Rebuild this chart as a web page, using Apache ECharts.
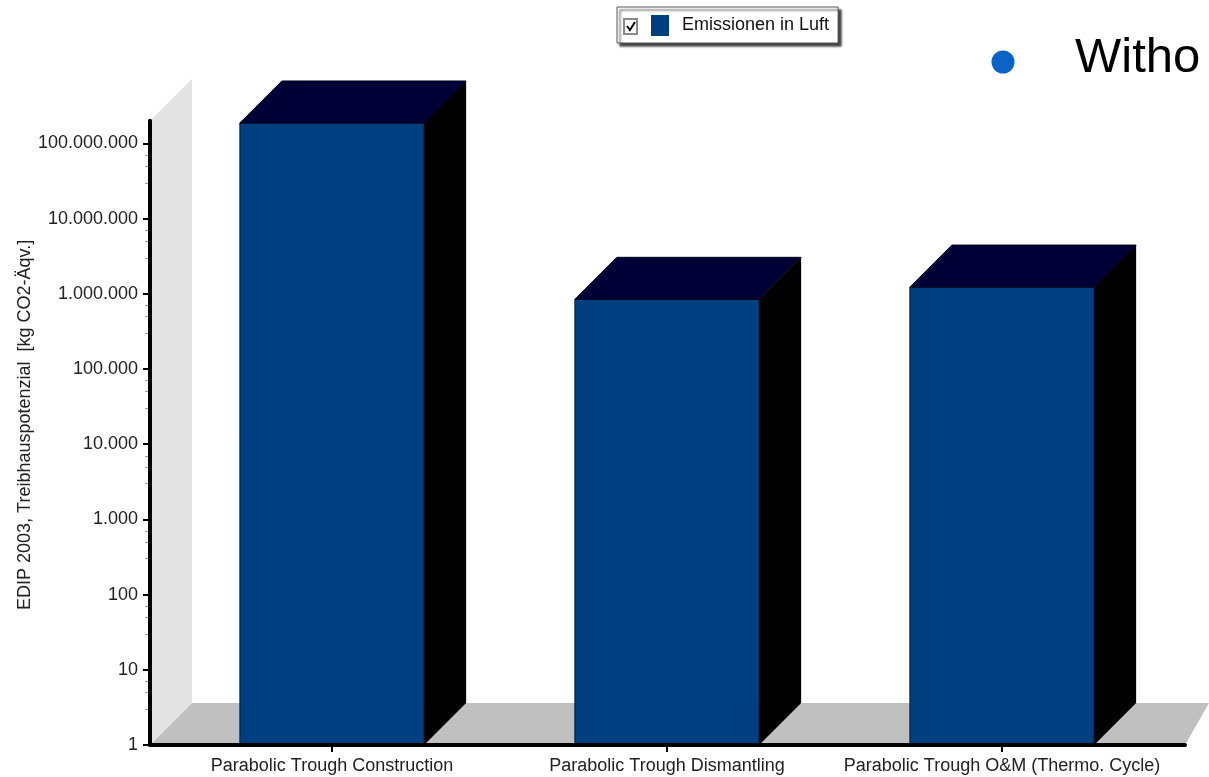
<!DOCTYPE html>
<html>
<head>
<meta charset="utf-8">
<script src="https://cdn.jsdelivr.net/npm/echarts@6/dist/echarts.min.js"></script>
<style>
html,body{margin:0;padding:0;background:#fff;}
#chart{width:1209px;height:777px;}
</style>
</head>
<body>
<div id="chart"></div>
<script>
// ---- data ----
var categories = ['Parabolic Trough Construction', 'Parabolic Trough Dismantling', 'Parabolic Trough O&M (Thermo. Cycle)'];
var seriesName = 'Emissionen in Luft';
var values = [187000000, 845000, 1230000];
var yMajorTicks = [1, 10, 100, 1000, 10000, 100000, 1000000, 10000000, 100000000];
var yMinorMultipliers = [3, 5, 7];
var yAxisName = 'EDIP 2003, Treibhauspotenzial  [kg CO2-\u00c4qv.]';
var yMin = 1, yMax = 200000000;

var yMinorTicks = [];
yMajorTicks.forEach(function (d) {
  yMinorMultipliers.forEach(function (m) {
    var v = d * m;
    if (v < yMax) yMinorTicks.push(v);
  });
});

function fmt(v) {
  return String(Math.round(v)).replace(/\B(?=(\d{3})+(?!\d))/g, '.');
}

var FONT = 'Liberation Sans, Arial, sans-serif';
var DEPTH = 42;
var chart = echarts.init(document.getElementById('chart'));

var gridTop = 120.8, gridBottom = 32;

var option = {
  backgroundColor: '#ffffff',
  animation: false,
  legend: {
    data: [seriesName],
    left: 617, top: 7,
    padding: [8, 9, 7, 34],
    itemWidth: 18, itemHeight: 21,
    icon: 'rect',
    backgroundColor: '#ffffff',
    borderColor: '#555',
    borderWidth: 1,
    shadowColor: 'rgba(0,0,0,0.75)',
    shadowBlur: 2,
    shadowOffsetX: 3,
    shadowOffsetY: 3,
    textStyle: { fontFamily: FONT, fontSize: 18, color: '#111', padding: [0, 0, 0, 8] },
    selectedMode: false
  },
  grid: [
    { left: 150, right: 24, top: gridTop, bottom: gridBottom },
    { left: 164.5, right: 39.5, top: gridTop, bottom: gridBottom }
  ],
  xAxis: [
    { type: 'value', gridIndex: 0, min: 0, max: 1, z: 10,
      axisLine: { show: true, lineStyle: { color: '#000', width: 4 } },
      axisTick: { show: false }, axisLabel: { show: false }, splitLine: { show: false } },
    { type: 'category', gridIndex: 1, data: categories, z: 10,
      axisLine: { show: false },
      axisTick: { show: true, alignWithLabel: true, length: 7, lineStyle: { color: '#000', width: 2 } },
      axisLabel: { interval: 0, fontFamily: FONT, fontSize: 18, color: '#222', margin: 12 },
      splitLine: { show: false } }
  ],
  yAxis: [
    { type: 'log', gridIndex: 0, position: 'left', min: yMin, max: yMax, z: 10,
      name: yAxisName, nameLocation: 'middle', nameGap: 116, nameMoveOverlap: false,
      nameTextStyle: { fontFamily: FONT, fontSize: 18, color: '#222', padding: [0, 0, 0, 16] },
      axisLine: { show: true, lineStyle: { color: '#000', width: 4 } },
      axisTick: { show: true, length: 7, customValues: yMajorTicks, lineStyle: { color: '#000', width: 2 } },
      axisLabel: { customValues: yMajorTicks, fontFamily: FONT, fontSize: 18, color: '#222', margin: 12,
        formatter: function (v) { return fmt(v); } },
      splitLine: { show: false }, minorTick: { show: false } },
    { type: 'log', gridIndex: 0, position: 'left', offset: 0, min: yMin, max: yMax, z: 9,
      axisLine: { show: false },
      axisTick: { show: true, length: 5, customValues: yMinorTicks, lineStyle: { color: '#999', width: 1 } },
      axisLabel: { show: false }, splitLine: { show: false } },
    { type: 'log', gridIndex: 1, min: yMin, max: yMax, show: false }
  ],
  series: [
    { // wall + floor
      type: 'custom', xAxisIndex: 0, yAxisIndex: 0, z: -1, silent: true,
      data: [[0, 1]],
      renderItem: function (params, api) {
        var bl = api.coord([0, yMin]);
        var tl = api.coord([0, yMax]);
        var br = api.coord([1, yMin]);
        return { type: 'group', children: [
          { type: 'polygon', shape: { points: [bl, tl, [tl[0] + DEPTH, tl[1] - DEPTH], [bl[0] + DEPTH, bl[1] - DEPTH]] },
            style: { fill: '#e3e3e3' } },
          { type: 'polygon', shape: { points: [bl, br, [br[0] + 24, br[1] - DEPTH], [bl[0] + DEPTH, bl[1] - DEPTH]] },
            style: { fill: '#c0c0c0' } }
        ] };
      }
    },
    {
      name: seriesName,
      type: 'custom', xAxisIndex: 1, yAxisIndex: 2, z: 2,
      itemStyle: { color: '#003f7f' },
      data: values.map(function (v, i) { return [i, v]; }),
      encode: { x: 0, y: 1 },
      renderItem: function (params, api) {
        var i = api.value(0), v = api.value(1);
        var top = api.coord([i, v]);
        var bot = api.coord([i, yMin]);
        var w = api.size([1, 0])[0] * 0.55;
        var x0 = top[0] - w / 2, x1 = top[0] + w / 2, y0 = top[1], y1 = bot[1];
        return { type: 'group', children: [
          { type: 'rect', shape: { x: x0, y: y0, width: w, height: y1 - y0 },
            style: { fill: '#003f7f', stroke: '#001a3a', lineWidth: 1 } },
          { type: 'polygon', shape: { points: [[x0, y0], [x0 + DEPTH, y0 - DEPTH], [x1 + DEPTH, y0 - DEPTH], [x1, y0]] },
            style: { fill: '#000036', stroke: '#00001e', lineWidth: 1 } },
          { type: 'polygon', shape: { points: [[x1, y0], [x1 + DEPTH, y0 - DEPTH], [x1 + DEPTH, y1 - DEPTH], [x1, y1]] },
            style: { fill: '#000000' } }
        ] };
      }
    }
  ],
  graphic: [
    { type: 'rect', shape: { x: 624, y: 19, width: 13, height: 15 },
      style: { fill: '#fff', stroke: '#8a8a8a', lineWidth: 2 }, z: 100 },
    { type: 'polyline', shape: { points: [[627, 26], [630, 30], [635, 22]] },
      style: { stroke: '#000', lineWidth: 2, fill: null }, z: 101 },
    { type: 'circle', shape: { cx: 1003, cy: 62, r: 11.5 }, style: { fill: '#0a64c8' }, z: 100 },
    { type: 'text', x: 1075, y: 58, z: 100,
      style: { text: 'Witho', fontFamily: FONT, fontSize: 49, fill: '#000', verticalAlign: 'middle', align: 'left' } }
  ]
};
chart.setOption(option);
</script>
</body>
</html>
